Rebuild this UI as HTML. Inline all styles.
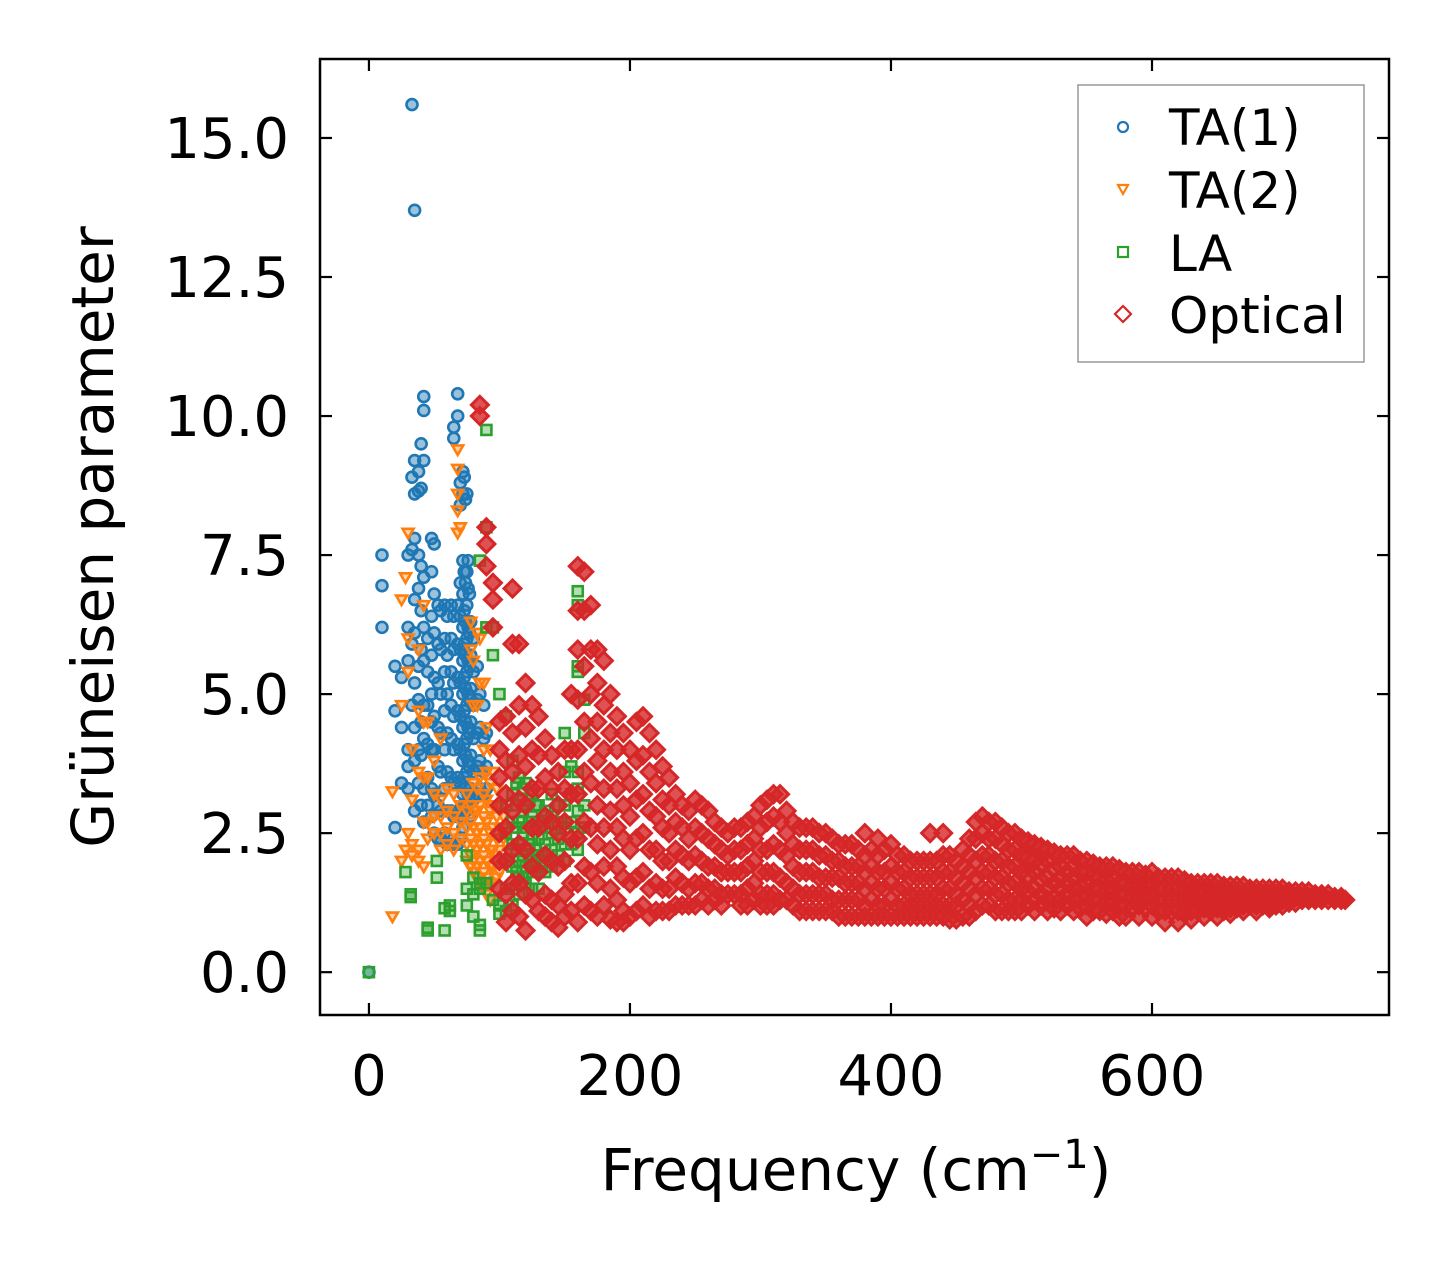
<!DOCTYPE html>
<html><head><meta charset="utf-8"><style>
html,body{margin:0;padding:0;background:#fff;}
svg{display:block;font-family:"DejaVu Sans","Liberation Sans",sans-serif;}
</style></head><body>
<svg id="chart" width="1450" height="1264" viewBox="0 0 1450 1264" xmlns="http://www.w3.org/2000/svg">
<rect width="1450" height="1264" fill="#fff"/>
<g id="marks"></g>
<g id="axes"></g>
<text x="0" y="0" transform="translate(113,537) rotate(-90)" text-anchor="middle" font-size="58">Grüneisen parameter</text>
<text x="856" y="1190" text-anchor="middle" font-size="58">Frequency (cm<tspan font-size="40" dy="-22">−1</tspan><tspan dy="22">)</tspan></text>
<g>
<rect x="1078" y="85" width="286" height="277" fill="#fff" stroke="#999" stroke-width="1.5"/>
<circle cx="1123" cy="127" r="5" fill="none" stroke="#1f77b4" stroke-width="2.2"/>
<text x="1169" y="145" font-size="50">TA(1)</text>
<path d="M1118,185 L1128,185 L1123,194 Z" fill="none" stroke="#ff7f0e" stroke-width="2.2"/>
<text x="1169" y="208" font-size="50">TA(2)</text>
<rect x="1118" y="247" width="10" height="10" fill="none" stroke="#2ca02c" stroke-width="2.2"/>
<text x="1169" y="271" font-size="50">LA</text>
<path d="M1123,306 L1131,314 L1123,322 L1115,314 Z" fill="none" stroke="#d62728" stroke-width="2.2"/>
<text x="1169" y="333" font-size="50">Optical</text>
</g>
</svg>
<script>
const xTicks=[0,200,400,600];
const yTicks=[0,2.5,5,7.5,10,12.5,15];
const yTickLabels=["0.0","2.5","5.0","7.5","10.0","12.5","15.0"];
const ta1=[[0,[0]],[10,[7.5,6.95,6.2]],[20,[5.5,4.7,2.6]],[25,[5.3,4.4,3.4]],[30,[7.5,6.2,5.6,4.0,3.7,3.3]],[33,[15.6,8.9,7.6,5.9,4.8]],[35,[13.7,9.2,8.6,7.8,6.7,6.1,5.2,4.4,3.8,2.9]],[38,[9.0,8.65,7.5,6.9,5.5,4.9,4.0,3.4]],[40,[9.5,8.7,7.3,6.5,5.8,4.5,3.9,3.0]],[42,[10.35,10.1,9.2,7.1,6.2,5.6,4.8,4.2,3.3,2.7]],[45,[6.0,5.4,4.8,4.1,3.5,3.0]],[48,[7.8,7.2,6.4,5.7,5.0,4.5,4.0,3.3,2.8]],[50,[7.7,6.8,6.1,5.3,4.6,4.0,3.2,2.5]],[53,[6.6,5.9,5.2,4.4,3.7,3.0,2.4]],[55,[6.5,5.8,5.0,4.3,3.6,2.9,2.4]],[58,[6.6,6.0,5.4,4.7,4.0,3.3,2.5]],[60,[6.4,5.7,5.0,4.3,3.6,2.9,2.3]],[63,[6.6,6.0,5.4,4.8,4.2,3.5,2.9,2.3]],[65,[9.6,9.8,6.4,5.8,5.2,4.6,4.0,3.4,2.8,2.3]],[68,[10.4,10.0,6.6,5.9,5.3,4.7,4.1,3.5,2.9,2.3]],[70,[8.8,8.4,7.0,6.4,5.8,5.2,4.6,4.0,3.4,2.8,2.4]],[72,[9.0,8.6,7.4,6.8,6.2,5.6,5.0,4.4,3.8,3.2,2.6]],[73,[8.9,7.2,6.5,5.9,5.3,4.7,4.1,3.5,3.0]],[74,[8.5,7.0,6.3,5.7,5.1,4.5,3.9,3.3,2.9]],[75,[8.6,7.2,6.6,6.0,5.4,4.8,4.2,3.6,3.0]],[76,[7.4,6.9,6.2,5.6,5.0,4.4,3.8,3.2]],[77,[6.8,6.1,5.5,4.9,4.3,3.7,3.1]],[78,[6.3,5.7,5.1,4.5,3.9,3.3,2.8]],[80,[6.0,5.4,4.8,4.2,3.6,3.1]],[83,[5.5,4.9,4.3,3.7,3.2]],[85,[5.0,4.4,3.8,3.3]],[88,[4.8,4.2,3.6,3.2]],[90,[4.3,3.7,3.3]]];
const ta2=[[18,[3.25,1.0]],[25,[4.8,6.7,2.0]],[28,[7.1,2.2]],[30,[7.9,6.0,5.4,2.5]],[33,[4.0,3.1,2.3,2.1]],[38,[5.8,4.7,3.6,2.2,2.0]],[42,[6.6,4.5,3.5,2.7,1.9]],[45,[4.5,3.5,2.7,2.4]],[50,[3.8,3.2,2.8,2.5]],[55,[4.2,3.1,2.8,2.5,2.2]],[60,[3.3,2.9,2.6,2.3]],[65,[3.2,2.8,2.5,2.2]],[68,[9.4,9.05,8.6,8.3,7.9]],[70,[8.0,3.0,2.7,2.4]],[75,[3.2,2.9,2.6,2.3,2.0]],[78,[6.3,5.8,3.0,2.7,2.4,2.1,1.9]],[80,[5.6,4.8,3.4,2.9,2.6,2.3,2.0,1.8]],[83,[6.1,4.8,3.3,2.9,2.5,2.2,1.9,1.7]],[85,[6.0,5.2,3.5,3.0,2.6,2.3,2.0,1.6]],[88,[5.2,4.0,3.2,2.8,2.4,2.1,1.8,1.5]],[90,[4.4,3.6,3.1,2.7,2.3,2.0,1.7,1.4]],[93,[4.0,3.4,2.9,2.5,2.2,1.9,1.6,1.3]],[95,[3.6,3.0,2.6,2.2,1.9,1.6]],[98,[3.3,2.8,2.4,2.0,1.7]],[100,[3.0,2.6,2.2,1.8]],[103,[2.8,2.4,2.0]]];
const la=[[0,[0]],[28,[1.8]],[32,[1.4,1.35]],[45,[0.8,0.75]],[52,[2.0,1.7]],[58,[1.15,0.75]],[62,[1.2,1.1]],[75,[1.2,1.5,2.1]],[80,[1.4,1.7,1.0]],[85,[1.6,7.4,1.5,0.85,0.75]],[90,[9.75,8.0,6.2,1.6]],[95,[6.2,5.7,1.3]],[100,[5.0,1.2,1.05]],[105,[4.6,3.0,2.5,2.0,1.5,1.1]],[110,[3.8,3.2,2.7,2.3,1.9,1.5,1.2]],[113,[3.4,3.0,2.6,2.2,1.8]],[115,[3.5,3.1,2.7,2.3,2.0,1.7,1.4]],[118,[3.3,2.9,2.5,2.1,1.7]],[120,[3.4,3.0,2.6,2.2,1.9,1.6]],[123,[3.1,2.7,2.3,2.0]],[125,[3.2,2.8,2.4,2.1,1.8,1.5]],[128,[3.0,2.6,2.2,1.9]],[130,[3.0,2.7,2.4,2.1,1.8,1.5]],[135,[2.9,2.6,2.3,2.0,1.8]],[140,[3.2,2.8,2.5,2.2,1.9]],[145,[3.0,2.7,2.4,2.1]],[150,[4.3,3.6,3.0,2.6,2.3,2.0]],[155,[3.7,3.2,2.7,2.3]],[160,[6.85,6.6,5.5,5.4,3.6,3.3,2.9,2.5,2.2]],[165,[4.9,4.3,3.0,2.6]]];
const optical=[[85,[10.2,10.0]],[90,[8.0,7.7,7.3]],[95,[7.0,6.7,6.2]],[100,[4.5,4.0,3.5,3.0,2.5,2.0,1.5]],[105,[4.6,3.8,3.2,2.6,2.0,1.4,0.9]],[110,[6.9,5.9,4.3,3.6,2.9,2.2,1.6,1.1]],[115,[5.9,4.8,3.9,3.1,2.3,1.6,1.0]],[120,[5.2,4.4,3.7,3.0,2.2,1.4,0.75]],[125,[4.8,4.0,3.3,2.6,1.9,1.3]],[130,[4.6,3.9,3.3,2.6,1.8,1.1]],[135,[4.2,3.5,2.8,2.1,1.4,1.0]],[140,[3.9,3.3,2.7,2.0,1.3,0.9]],[145,[3.6,3.0,2.5,1.9,1.2,0.8]],[150,[4.0,3.3,2.7,2.0,1.4,1.0]],[155,[5.0,4.0,3.2,2.4,1.6,1.1]],[160,[7.3,6.5,5.8,4.9,4.0,3.2,2.4,1.6,0.9]],[165,[7.2,6.5,5.5,4.5,3.6,2.7,1.9,1.2]],[170,[6.6,5.8,5.0,4.2,3.4,2.6,1.8,1.1]],[175,[5.8,5.2,4.5,3.8,3.0,2.3,1.6,1.0]],[180,[5.6,4.8,4.0,3.3,2.6,1.9,1.2]],[185,[5.0,4.3,3.6,2.9,2.2,1.5,0.95]],[190,[4.6,4.0,3.3,2.6,1.9,1.3,0.9]],[195,[4.3,3.6,3.0,2.4,1.7,1.1,0.9]],[200,[4.0,3.4,2.8,2.2,1.6,1.0]],[205,[4.5,3.8,3.1,2.4,1.7,1.1]],[210,[4.6,3.9,3.2,2.5,1.8,1.2]],[215,[4.3,3.6,2.9,2.2,1.5,1.0]],[220,[4.0,3.4,2.8,2.2,1.6,1.1]],[225,[3.7,3.1,2.6,2.0,1.5,1.1]],[230,[3.5,3.0,2.5,2.0,1.5,1.1]],[235,[3.2,2.7,2.2,1.7,1.2]],[240,[3.0,2.6,2.1,1.6,1.2]],[245,[2.9,2.4,2.0,1.5,1.2]],[250,[3.1,2.6,2.1,1.6,1.2]],[255,[3.0,2.5,2.0,1.6,1.3]],[260,[2.9,2.4,1.9,1.5,1.2]],[265,[2.7,2.3,1.9,1.5,1.3]],[270,[2.6,2.2,1.8,1.4,1.2]],[275,[2.5,2.1,1.8,1.4]],[280,[2.6,2.2,1.8,1.4]],[285,[2.6,2.2,1.8,1.4,1.2]],[290,[2.7,2.3,1.9,1.5,1.2]],[295,[2.8,2.4,2.0,1.6,1.3]],[300,[3.0,2.6,2.2,1.8,1.4,1.2]],[305,[3.1,2.7,2.2,1.8,1.4,1.2]],[310,[3.2,2.8,2.3,1.8,1.4,1.2]],[315,[3.2,2.7,2.2,1.7,1.3]],[320,[2.9,2.5,2.1,1.6,1.3]],[325,[2.7,2.3,1.9,1.5,1.2]],[330,[2.6,2.2,1.8,1.4,1.1]],[335,[2.6,2.2,1.8,1.4,1.1]],[340,[2.6,2.2,1.8,1.4,1.1]],[345,[2.5,2.1,1.7,1.4,1.1]],[350,[2.5,2.1,1.7,1.4,1.1]],[355,[2.4,2.0,1.7,1.3,1.1]],[360,[2.3,2.0,1.7,1.3,1.0]],[365,[2.3,1.9,1.6,1.3,1.0]],[370,[2.3,1.9,1.6,1.3,1.0]],[375,[2.2,1.9,1.6,1.3,1.0]],[380,[2.5,2.1,1.8,1.5,1.2,1.0]],[385,[2.2,1.9,1.6,1.3,1.0]],[390,[2.4,2.1,1.8,1.5,1.2,1.0]],[395,[2.2,1.8,1.5,1.2,1.0]],[400,[2.3,1.9,1.6,1.3,1.0]],[405,[2.1,1.8,1.5,1.2,1.0]],[410,[2.1,1.8,1.5,1.2,1.0]],[415,[2.0,1.7,1.4,1.2,1.0]],[420,[2.0,1.7,1.4,1.2,1.0]],[425,[2.0,1.7,1.4,1.2,1.0]],[430,[2.5,2.0,1.7,1.4,1.2,1.0]],[435,[2.0,1.7,1.4,1.2,1.0]],[440,[2.5,2.1,1.8,1.5,1.2,1.0]],[445,[2.1,1.8,1.5,1.2,0.95]],[450,[2.0,1.7,1.4,1.2,0.95]],[455,[2.2,1.9,1.6,1.3,1.0]],[460,[2.4,2.1,1.8,1.5,1.2,1.0]],[465,[2.7,2.4,2.0,1.7,1.4,1.1]],[470,[2.8,2.5,2.1,1.8,1.5,1.2]],[475,[2.7,2.4,2.1,1.8,1.5,1.2]],[480,[2.7,2.4,2.0,1.7,1.4,1.1]],[485,[2.6,2.3,2.0,1.7,1.4,1.1]],[490,[2.5,2.2,1.9,1.6,1.3,1.1]],[495,[2.5,2.2,1.9,1.6,1.3,1.1]],[500,[2.4,2.1,1.8,1.5,1.3,1.1]],[505,[2.35,2.05,1.75,1.45,1.2]],[510,[2.3,2.0,1.8,1.5,1.3,1.1]],[515,[2.25,1.95,1.65,1.4,1.2]],[520,[2.2,2.0,1.7,1.5,1.3,1.1]],[525,[2.15,1.85,1.6,1.35,1.15]],[530,[2.1,1.9,1.7,1.5,1.3,1.1]],[535,[2.1,1.8,1.6,1.4,1.2]],[540,[2.1,1.9,1.7,1.5,1.3,1.1]],[545,[2.0,1.8,1.55,1.35,1.15]],[550,[2.0,1.8,1.6,1.4,1.2,1.0]],[555,[1.95,1.75,1.5,1.3,1.1]],[560,[1.9,1.7,1.5,1.3,1.1]],[565,[1.9,1.65,1.45,1.25,1.05]],[570,[1.9,1.7,1.5,1.3,1.1]],[575,[1.85,1.6,1.4,1.2,1.0]],[580,[1.8,1.6,1.4,1.2,1.0]],[585,[1.8,1.55,1.35,1.15]],[590,[1.8,1.6,1.4,1.2,1.0]],[595,[1.75,1.55,1.35,1.15]],[600,[1.8,1.6,1.4,1.2,1.0]],[605,[1.7,1.5,1.3,1.1]],[610,[1.7,1.5,1.3,1.1,0.9]],[615,[1.7,1.5,1.3,1.1]],[620,[1.7,1.5,1.3,1.1,0.9]],[625,[1.65,1.45,1.25,1.05]],[630,[1.6,1.5,1.3,1.1,0.95]],[635,[1.6,1.45,1.25,1.1]],[640,[1.6,1.45,1.3,1.15,1.0]],[645,[1.6,1.4,1.25,1.1]],[650,[1.6,1.45,1.3,1.15,1.0]],[655,[1.55,1.4,1.25,1.1]],[660,[1.55,1.4,1.3,1.15,1.05]],[665,[1.55,1.4,1.25,1.15]],[670,[1.55,1.4,1.3,1.2,1.1]],[675,[1.5,1.4,1.3,1.2]],[680,[1.5,1.4,1.3,1.2,1.1]],[685,[1.5,1.4,1.3,1.2]],[690,[1.5,1.4,1.3,1.2,1.15]],[695,[1.5,1.4,1.3,1.2]],[700,[1.5,1.4,1.3,1.2]],[705,[1.45,1.35,1.25]],[710,[1.45,1.35,1.25]],[715,[1.45,1.35,1.3]],[720,[1.45,1.35,1.3]],[725,[1.4,1.35,1.3]],[730,[1.4,1.35,1.3]],[735,[1.4,1.3]],[740,[1.35,1.3]],[745,[1.35,1.3]],[748,[1.3]]];

const NS="http://www.w3.org/2000/svg";
const PL=320,PR=1389,PT=59,PB=1015;
const XMIN=-37.5,XMAX=781.6,YMIN=-0.77,YMAX=16.42;
function sx(v){return PL+(v-XMIN)/(XMAX-XMIN)*(PR-PL);}
function sy(v){return PB-(v-YMIN)/(YMAX-YMIN)*(PB-PT);}
function mk(tag,attrs){const e=document.createElementNS(NS,tag);for(const k in attrs)e.setAttribute(k,attrs[k]);return e;}
const marks=document.getElementById('marks');
function drawSeries(data,kind,color,name,fo){
  const g=mk('g',{});
  
  
  data.forEach(col=>{col[1].forEach(yv=>{
    const x=sx(col[0]),y=sy(yv);let e;
    if(kind==='o')e=mk('circle',{cx:x,cy:y,r:5.5,'stroke-width':2.6});
    else if(kind==='v')e=mk('path',{d:`M${x-5.5},${y-4} L${x+5.5},${y-4} L${x},${y+5.5} Z`,'stroke-width':2.6});
    else if(kind==='s')e=mk('rect',{x:x-5,y:y-5,width:10,height:10,'stroke-width':2.6});
    else e=mk('path',{d:`M${x},${y-8.5} L${x+8.5},${y} L${x},${y+8.5} L${x-8.5},${y} Z`,'stroke-width':3});
    e.setAttribute('fill',color);
    e.setAttribute('fill-opacity',fo);
    e.setAttribute('stroke',color);
    
    
    g.appendChild(e);
  });});
  marks.appendChild(g);
}
drawSeries(ta1,'o','#1f77b4','ta1',0.45);
drawSeries(ta2,'v','#ff7f0e','ta2',0.35);
drawSeries(la,'s','#2ca02c','la',0.35);
drawSeries(optical,'d','#d62728','optical',0.8);

const axes=document.getElementById('axes');
const frame=mk('rect',{x:PL,y:PT,width:PR-PL,height:PB-PT,fill:'none',stroke:'#000','stroke-width':2.5});


axes.appendChild(frame);
xTicks.forEach(t=>{
  const x=sx(t);
  axes.appendChild(mk('line',{x1:x,y1:PB,x2:x,y2:PB-12,stroke:'#000','stroke-width':2.2}));
  axes.appendChild(mk('line',{x1:x,y1:PT,x2:x,y2:PT+12,stroke:'#000','stroke-width':2.2}));
  const tx=mk('text',{x:x,y:1095,'text-anchor':'middle','font-size':56});
  tx.textContent=String(t);
  
  
  axes.appendChild(tx);
});
yTicks.forEach((t,i)=>{
  const y=sy(t);
  axes.appendChild(mk('line',{x1:PL,y1:y,x2:PL+12,y2:y,stroke:'#000','stroke-width':2.2}));
  axes.appendChild(mk('line',{x1:PR,y1:y,x2:PR-12,y2:y,stroke:'#000','stroke-width':2.2}));
  const tx=mk('text',{x:289,y:y+20,'text-anchor':'end','font-size':56});
  tx.textContent=yTickLabels[i];
  
  
  axes.appendChild(tx);
});
</script>
</body></html>
